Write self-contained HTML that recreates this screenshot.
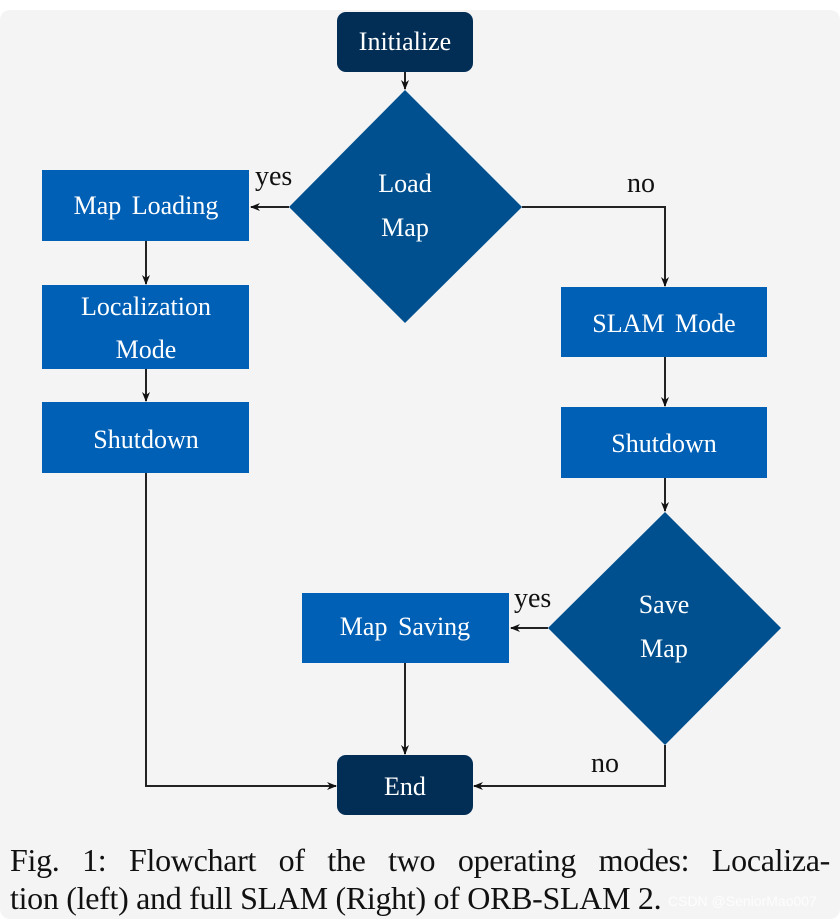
<!DOCTYPE html>
<html><head><meta charset="utf-8"><style>
html,body{margin:0;padding:0;background:#fff;}
body{width:840px;height:919px;position:relative;overflow:hidden;font-family:"Liberation Serif",serif;}
.bg{position:absolute;left:0;top:10px;width:840px;height:909px;background:#f4f4f4;border-radius:10px;}
svg{position:absolute;left:0;top:0;}
.cap{position:absolute;left:10px;width:820px;font-size:32px;color:#111;text-align:justify;text-align-last:justify;white-space:nowrap;letter-spacing:-0.3px;}
.wm{position:absolute;left:668px;top:893px;font-family:"Liberation Sans",sans-serif;font-size:14px;color:#fff;opacity:.85;}
</style></head><body>
<div class="bg"></div>
<svg width="840" height="919" viewBox="0 0 840 919">
<defs><marker id="a" markerWidth="10" markerHeight="10" refX="9" refY="5" orient="auto" markerUnits="userSpaceOnUse"><path d="M0,1 L10,5 L0,9 L3,5 Z" fill="#111"/></marker></defs>
<g stroke="#222" stroke-width="2" fill="none">
<line x1="405" y1="72" x2="405" y2="89" marker-end="url(#a)"/>
<line x1="289" y1="207" x2="251" y2="207" marker-end="url(#a)"/>
<polyline points="522,207 665,207 665,286" marker-end="url(#a)"/>
<line x1="146" y1="241" x2="146" y2="284" marker-end="url(#a)"/>
<line x1="146" y1="369" x2="146" y2="401" marker-end="url(#a)"/>
<line x1="665" y1="357" x2="665" y2="406" marker-end="url(#a)"/>
<line x1="665" y1="478" x2="665" y2="511" marker-end="url(#a)"/>
<line x1="548" y1="628" x2="511" y2="628" marker-end="url(#a)"/>
<line x1="405" y1="663" x2="405" y2="754" marker-end="url(#a)"/>
<polyline points="146,473 146,786 336,786" marker-end="url(#a)"/>
<polyline points="665,745 665,786 474,786" marker-end="url(#a)"/>
</g>
<rect x="337" y="12" width="136" height="60" rx="9" fill="#022d55"/>
<rect x="337" y="755" width="136" height="60" rx="9" fill="#022d55"/>
<polygon points="405,90 522,207 405,323 289,207" fill="#00508f"/>
<polygon points="665,512 781,628 665,745 548,628" fill="#00508f"/>
<g fill="#0060b6">
<rect x="42" y="170" width="207" height="71"/>
<rect x="42" y="285" width="207" height="84"/>
<rect x="42" y="402" width="207" height="71"/>
<rect x="561" y="287" width="206" height="70"/>
<rect x="561" y="407" width="206" height="71"/>
<rect x="302" y="593" width="207" height="70"/>
</g>
<g fill="#fff" font-family="Liberation Serif, serif" font-size="26" text-anchor="middle" word-spacing="4">
<text x="405" y="50">Initialize</text>
<text x="405" y="192">Load</text><text x="405" y="236">Map</text>
<text x="146" y="214">Map Loading</text>
<text x="146" y="315">Localization</text><text x="146" y="358">Mode</text>
<text x="146" y="448">Shutdown</text>
<text x="664" y="332">SLAM Mode</text>
<text x="664" y="452">Shutdown</text>
<text x="664" y="613">Save</text><text x="664" y="657">Map</text>
<text x="405" y="635">Map Saving</text>
<text x="405" y="795">End</text>
</g>
<g fill="#111" font-family="Liberation Serif, serif" font-size="28">
<text x="255" y="185">yes</text>
<text x="627" y="192">no</text>
<text x="514" y="607">yes</text>
<text x="591" y="772">no</text>
</g>
</svg>
<div class="cap" style="top:842px;">Fig. 1: Flowchart of the two operating modes: Localiza-</div>
<div class="cap" style="top:880px;text-align-last:left;">tion (left) and full SLAM (Right) of ORB-SLAM 2.</div>
<div class="wm">CSDN @SeniorMao007</div>
</body></html>
